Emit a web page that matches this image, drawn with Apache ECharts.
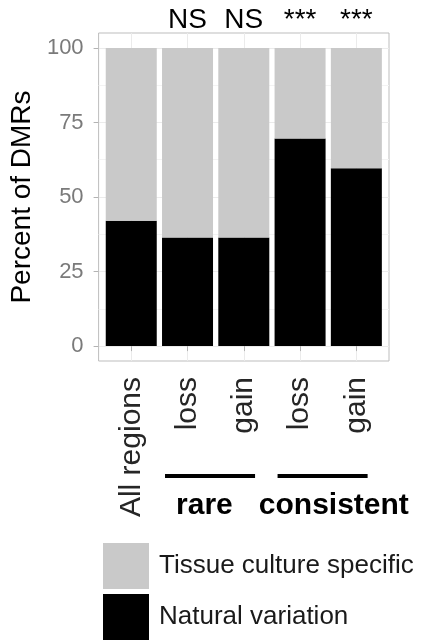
<!DOCTYPE html>
<html>
<head>
<meta charset="utf-8">
<script src="https://cdn.jsdelivr.net/npm/echarts@6/dist/echarts.min.js"></script>
<style>
  html, body { margin: 0; padding: 0; background: #fff; }
  #chart { width: 422px; height: 641px; }
</style>
</head>
<body>
<div id="chart"></div>
<script>
// data
const categories = ['All regions', 'loss', 'gain', 'loss', 'gain'];
const naturalVariation = [42, 36.4, 36.4, 69.6, 59.6];
const tissueCultureSpecific = [58, 63.6, 63.6, 30.4, 40.4];
const significance = ['', 'NS', 'NS', '***', '***'];
const yTicks = [0, 25, 50, 75, 100];
const yMinorTicks = [12.5, 37.5, 62.5, 87.5];
const groupNames = ['rare', 'consistent'];

const FONT = '"Liberation Sans", Arial, Helvetica, sans-serif';
const xPos = categories.map((c, i) => i + 1);

const chart = echarts.init(document.getElementById('chart'));

// value first so that the stack is applied on the y value
const barSeries = (name, values, color) => ({
  name: name,
  type: 'bar',
  stack: 'dmr',
  barWidth: 51,
  itemStyle: { color: color },
  dimensions: ['value', 'pos'],
  encode: { x: 'pos', y: 'value' },
  data: values.map((v, i) => [v, xPos[i]]),
});

const topSeries = barSeries('Tissue culture specific', tissueCultureSpecific, '#c9c9c9');
topSeries.label = {
  show: true,
  position: 'top',
  distance: 14,
  formatter: p => significance[p.dataIndex],
  fontSize: 28,
  color: '#000',
  fontFamily: FONT,
};

const option = {
  animation: false,
  grid: {
    left: 95, right: 33, top: 33, bottom: 280,
    show: true, borderColor: '#bdbdbd', borderWidth: 1,
  },
  legend: {
    orient: 'vertical',
    left: 103,
    top: 543,
    padding: 0,
    itemWidth: 46,
    itemHeight: 46,
    itemGap: 5,
    icon: 'rect',
    selectedMode: false,
    data: ['Tissue culture specific', 'Natural variation'],
    textStyle: { fontSize: 26, color: '#1a1a1a', fontFamily: FONT, padding: [0, 0, 0, 5] },
  },
  xAxis: {
    type: 'value',
    min: 0.42,
    max: 5.58,
    axisLine: { show: false },
    axisTick: { show: true, length: 5, customValues: xPos, lineStyle: { color: '#b3b3b3' } },
    axisLabel: {
      customValues: xPos,
      rotate: 90,
      margin: 16,
      fontSize: 30,
      color: '#262626',
      fontFamily: FONT,
      formatter: v => categories[Math.round(v) - 1],
    },
    splitLine: { show: true, lineStyle: { color: '#ebebeb' } },
  },
  yAxis: [
    {
      type: 'value',
      min: -5,
      max: 105,
      name: 'Percent of DMRs',
      nameLocation: 'middle',
      nameGap: 58,
      nameTextStyle: { fontSize: 28, color: '#000', fontFamily: FONT },
      axisLine: { show: false },
      axisTick: { show: true, length: 5, customValues: yTicks, lineStyle: { color: '#b3b3b3' } },
      axisLabel: { customValues: yTicks, margin: 15, fontSize: 22, color: '#7a7a7a', fontFamily: FONT },
      splitLine: { show: true, lineStyle: { color: '#ebebeb' } },
    },
    {
      // minor grid lines only
      type: 'value',
      min: -5,
      max: 105,
      position: 'left',
      axisLine: { show: false },
      axisTick: { show: false, customValues: yMinorTicks },
      axisLabel: { show: false, customValues: yMinorTicks },
      splitLine: { show: true, lineStyle: { color: '#f3f3f3' } },
    },
  ],
  series: [
    barSeries('Natural variation', naturalVariation, '#000'),
    topSeries,
  ],
};

chart.setOption(option);

// group brackets under the x labels
const spans = [[1.6, 3.2], [3.6, 5.2]];
const labelAt = [2.3, 4.6];
const px = v => chart.convertToPixel({ xAxisIndex: 0 }, v);
const graphic = [];
groupNames.forEach((g, i) => {
  graphic.push({
    type: 'line',
    shape: { x1: px(spans[i][0]), y1: 476, x2: px(spans[i][1]), y2: 476 },
    style: { stroke: '#000', lineWidth: 4 },
  });
  graphic.push({
    type: 'text',
    x: px(labelAt[i]),
    y: 506,
    style: {
      text: g,
      font: 'bold 30px ' + FONT,
      fill: '#000',
      align: 'center',
      verticalAlign: 'middle',
    },
  });
});
chart.setOption({ graphic: graphic });
</script>
</body>
</html>
